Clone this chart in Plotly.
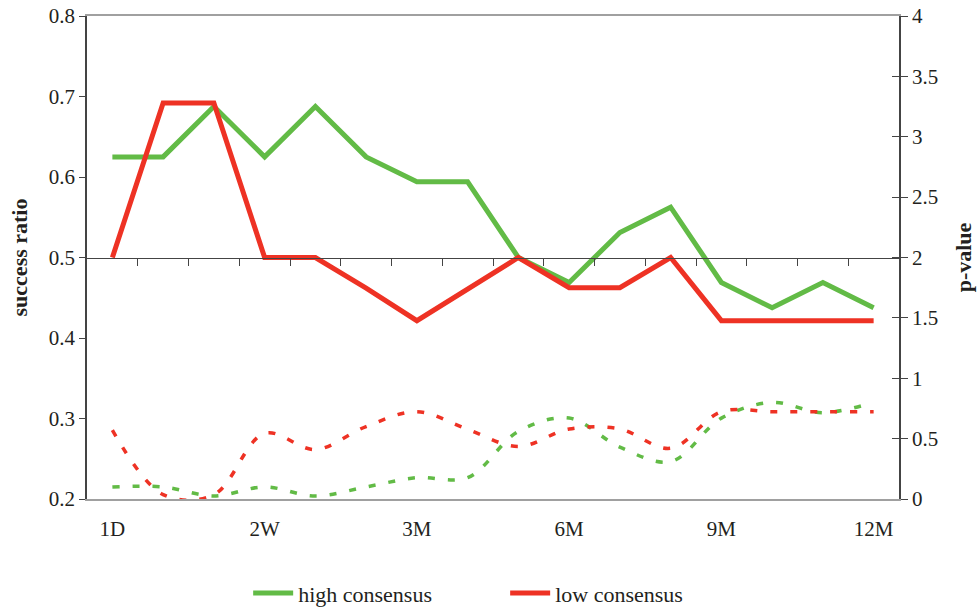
import plotly.graph_objects as go

# ---- data ----
periods = list(range(16))
tick_positions = [0, 3, 6, 9, 12, 15]
tick_labels = ["1D", "2W", "3M", "6M", "9M", "12M"]
boundary_ticks = [i + 0.5 for i in range(15)]

high_ratio = [0.625, 0.625, 0.6875, 0.625, 0.6875, 0.625, 0.594, 0.594,
              0.5, 0.469, 0.531, 0.5625, 0.469, 0.4375, 0.469, 0.4375]
low_ratio = [0.5, 0.692, 0.692, 0.5, 0.5, 0.462, 0.4215, 0.461,
             0.5, 0.4625, 0.4625, 0.5, 0.4215, 0.4215, 0.4215, 0.4215]
high_p = [0.10, 0.10, 0.025, 0.10, 0.025, 0.10, 0.177, 0.177,
          0.56, 0.67, 0.43, 0.31, 0.67, 0.80, 0.715, 0.80]
low_p = [0.571, 0.036, 0.036, 0.544, 0.41, 0.60, 0.723, 0.577,
         0.435, 0.58, 0.58, 0.42, 0.723, 0.723, 0.723, 0.723]

GREEN = "#62BB46"
RED = "#EE3224"
FONT = "Liberation Serif"

fig = go.Figure()
fig.add_trace(go.Scatter(x=periods, y=high_p, yaxis="y2", mode="lines",
                         line=dict(color=GREEN, width=3.5, dash="7px,13px",
                                   shape="spline", smoothing=1),
                         showlegend=False))
fig.add_trace(go.Scatter(x=periods, y=low_p, yaxis="y2", mode="lines",
                         line=dict(color=RED, width=3.5, dash="7px,13px",
                                   shape="spline", smoothing=1),
                         showlegend=False))
fig.add_trace(go.Scatter(x=periods, y=high_ratio, mode="lines", name="high consensus",
                         line=dict(color=GREEN, width=5)))
fig.add_trace(go.Scatter(x=periods, y=low_ratio, mode="lines", name="low consensus",
                         line=dict(color=RED, width=5)))
# dummy traces so the helper axes are drawn
fig.add_trace(go.Scatter(x=[None], y=[None], xaxis="x2", showlegend=False, hoverinfo="skip"))
fig.add_trace(go.Scatter(x=[None], y=[None], yaxis="y3", showlegend=False, hoverinfo="skip"))

fig.update_layout(
    width=979, height=609,
    margin=dict(l=87, r=80, t=16, b=110),
    paper_bgcolor="white", plot_bgcolor="white",
    font=dict(family=FONT, size=21, color="#231F20"),
    xaxis=dict(range=[-0.5, 15.5], tickmode="array", tickvals=tick_positions,
               ticktext=tick_labels, ticks="", showgrid=False, zeroline=False,
               showline=True, linecolor="#A0A0A0", linewidth=1.5, mirror=True,
               ticklabelstandoff=10, automargin=False),
    xaxis2=dict(range=[-0.5, 15.5], overlaying="x", anchor="free", position=0.5,
                tickmode="array", tickvals=boundary_ticks, ticks="outside",
                ticklen=7, tickwidth=1, tickcolor="#444", showticklabels=False,
                showgrid=False, zeroline=False, showline=True,
                linecolor="#444", linewidth=1.2, automargin=False),
    yaxis=dict(range=[0.2, 0.8], dtick=0.1, tickformat=".1f", ticks="outside",
               ticklen=6, tickcolor="#444", showgrid=False, zeroline=False,
               showline=True, linecolor="#444", linewidth=1.5, automargin=False,
               ticklabeloverflow="allow",
               title=dict(text="<b>success ratio</b>", font=dict(size=22), standoff=15)),
    yaxis2=dict(range=[0, 4], dtick=0.5, overlaying="y", side="right",
                ticks="outside", ticklen=7, tickcolor="#444", showgrid=False,
                zeroline=False, showline=True, linecolor="#444", linewidth=1.5,
                automargin=False, ticklabeloverflow="allow",
                title=dict(text="<b>p-value</b>", font=dict(size=22), standoff=18)),
    yaxis3=dict(range=[0, 4], dtick=0.5, overlaying="y", side="right", anchor="x",
                ticks="inside", ticklen=7, tickcolor="#444", showticklabels=False,
                showgrid=False, zeroline=False, showline=False, automargin=False),
    legend=dict(orientation="h", xref="container", yref="container",
                x=0.516, xanchor="center", y=0.026, yanchor="middle",
                font=dict(size=22), itemwidth=40, entrywidth=202, tracegroupgap=0),
)

fig.write_html("out.html", config={"displayModeBar": False},
               post_script="document.body.style.margin='0';document.body.style.overflow='hidden';")
